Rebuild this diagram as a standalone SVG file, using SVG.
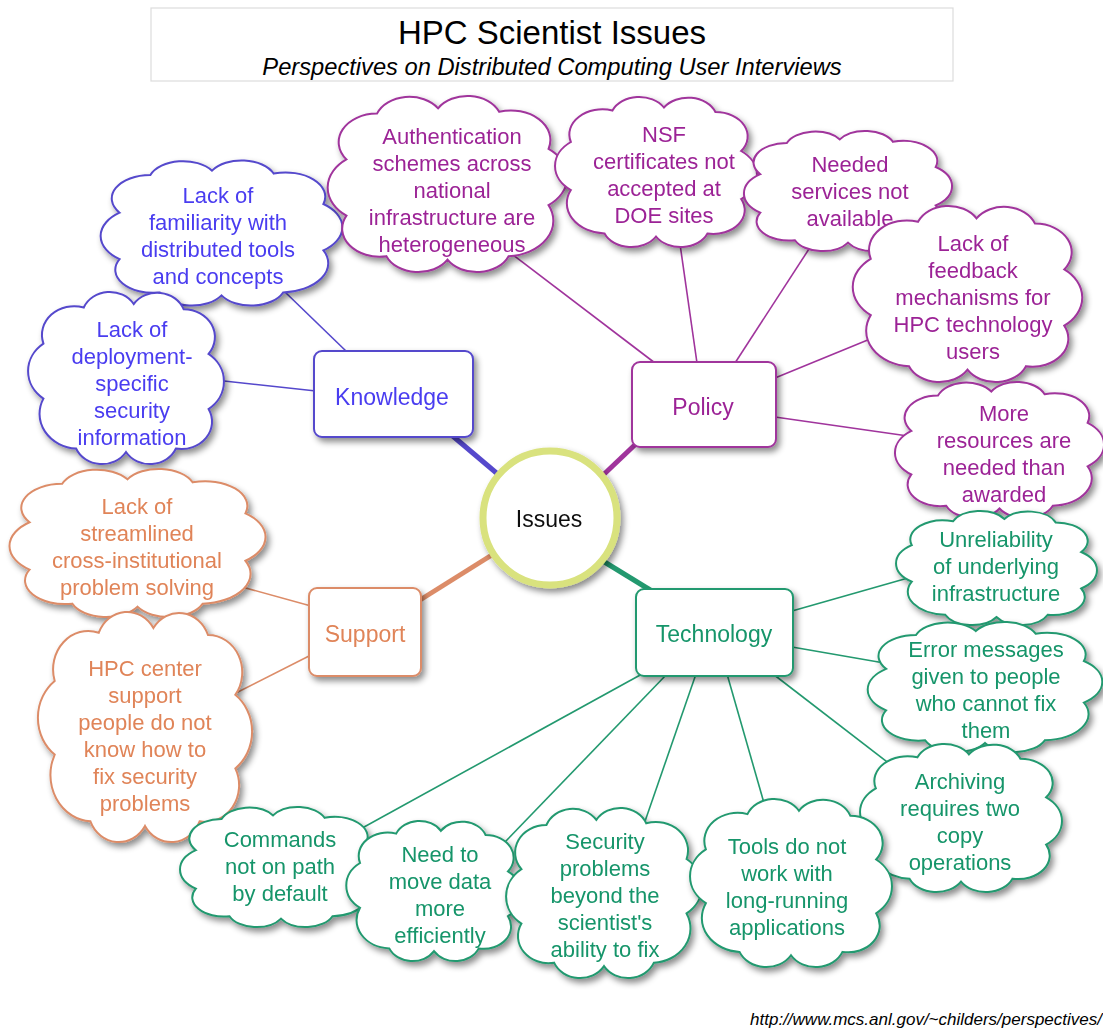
<svg xmlns="http://www.w3.org/2000/svg" xmlns:xlink="http://www.w3.org/1999/xlink" width="1103" height="1030" viewBox="0 0 1103 1030">
  <style>
    text { font-family: "Liberation Sans", Arial, Helvetica, sans-serif; }
    .title { font-size: 33px; fill: #000; text-anchor: middle; }
    .subtitle { font-size: 23.7px; font-style: italic; fill: #000; text-anchor: middle; }
    .url { font-size: 17px; font-style: italic; fill: #000; text-anchor: end; }
    .lbl { font-size: 22px; text-anchor: middle; }
    .box-lbl { font-size: 23px; text-anchor: middle; }
    .cloud-shape { fill: #fff; stroke-width: 2; vector-effect: non-scaling-stroke; }
    .box { fill: #fff; stroke-width: 2; }
    .know { stroke: #5548cc; }
    .know-t { fill: #4a3cf0; }
    .pol { stroke: #a0349c; }
    .pol-t { fill: #9c2496; }
    .sup { stroke: #dc8c68; }
    .sup-t { fill: #e08458; }
    .tech { stroke: #23996f; }
    .tech-t { fill: #16956a; }
    .thin { stroke-width: 1.6; fill: none; }
    .thick { stroke-width: 5; fill: none; }
  </style>
  <defs>
    <filter id="shadow" x="-20%" y="-20%" width="145%" height="150%">
      <feDropShadow dx="3" dy="4" stdDeviation="3" flood-color="#000" flood-opacity="0.45"/>
    </filter>
    <!-- unit cloud, 100 x 100 around the origin: ten lobes on a rounded box -->
    <path id="cloud" class="cloud-shape" d="M-30,-40 A14.7,14.7 0 0 1 -4,-43 A14.6,14.6 0 0 1 22,-41 A16.75,16.75 0 0 1 43,-20 A20,20 0 0 1 43,12 A20.2,20.2 0 0 1 26,41 A14.6,14.6 0 0 1 0,43 A14.6,14.6 0 0 1 -26,41 A15.9,15.9 0 0 1 -43,18 A20,20 0 0 1 -43,-14 A16.2,16.2 0 0 1 -30,-40 Z"/>
  </defs>

  <rect width="1103" height="1030" fill="#fff"/>

  <!-- heading -->
  <g id="heading">
    <rect x="151" y="8" width="802" height="73" fill="#fff" stroke="#dcdcdc" stroke-width="1.2"/>
    <text class="title" x="552" y="44">HPC Scientist Issues</text>
    <text class="subtitle" x="552" y="75">Perspectives on Distributed Computing User Interviews</text>
  </g>

  <!-- connectors -->
  <g id="connectors">
    <!-- hub to categories -->
    <line class="thick know" x1="448" y1="432" x2="500" y2="476"/>
    <line class="thick pol" x1="640" y1="440" x2="600" y2="478"/>
    <line class="thick sup" x1="420" y1="600" x2="495" y2="553"/>
    <line class="thick tech" x1="598" y1="558" x2="660" y2="596"/>
    <!-- Knowledge -->
    <line class="thin know" x1="347" y1="352" x2="285" y2="292"/>
    <line class="thin know" x1="316" y1="391" x2="215" y2="380"/>
    <!-- Policy -->
    <line class="thin pol" x1="655" y1="363" x2="500" y2="245"/>
    <line class="thin pol" x1="697" y1="363" x2="678" y2="230"/>
    <line class="thin pol" x1="735" y1="363" x2="820" y2="232"/>
    <line class="thin pol" x1="775" y1="378" x2="875" y2="337"/>
    <line class="thin pol" x1="775" y1="417" x2="915" y2="437"/>
    <!-- Support -->
    <line class="thin sup" x1="311" y1="606" x2="235" y2="585"/>
    <line class="thin sup" x1="311" y1="655" x2="232" y2="695"/>
    <!-- Technology -->
    <line class="thin tech" x1="792" y1="611" x2="915" y2="576"/>
    <line class="thin tech" x1="792" y1="647" x2="890" y2="664"/>
    <line class="thin tech" x1="773" y1="674" x2="895" y2="768"/>
    <line class="thin tech" x1="727" y1="674" x2="766" y2="810"/>
    <line class="thin tech" x1="696" y1="674" x2="642" y2="830"/>
    <line class="thin tech" x1="667" y1="674" x2="505" y2="842"/>
    <line class="thin tech" x1="642" y1="674" x2="355" y2="832"/>
  </g>

  <!-- hub -->
  <g id="issues" filter="url(#shadow)">
    <circle cx="550" cy="518" r="67" fill="#fff" stroke="#d9e27e" stroke-width="7"/>
    <text class="box-lbl" x="549" y="527" fill="#111">Issues</text>
  </g>

  <!-- categories -->
  <g id="knowledge" filter="url(#shadow)">
    <rect class="box know" x="314" y="351" width="159" height="86" rx="8"/>
    <text class="box-lbl know-t" x="392" y="405">Knowledge</text>
  </g>
  <g id="policy" filter="url(#shadow)">
    <rect class="box pol" x="632" y="362" width="144" height="85" rx="8"/>
    <text class="box-lbl pol-t" x="703" y="415">Policy</text>
  </g>
  <g id="support" filter="url(#shadow)">
    <rect class="box sup" x="309" y="588" width="112" height="88" rx="8"/>
    <text class="box-lbl sup-t" x="365" y="642">Support</text>
  </g>
  <g id="technology" filter="url(#shadow)">
    <rect class="box tech" x="636" y="589" width="157" height="87" rx="8"/>
    <text class="box-lbl tech-t" x="714" y="642">Technology</text>
  </g>

  <!-- Knowledge issues -->
  <g id="k-familiarity" filter="url(#shadow)">
    <use xlink:href="#cloud" class="know" transform="translate(221.5,233) scale(2.37,1.45)"/>
    <text class="lbl know-t" x="218" y="203"><tspan x="218">Lack of</tspan><tspan x="218" dy="27">familiarity with</tspan><tspan x="218" dy="27">distributed tools</tspan><tspan x="218" dy="27">and concepts</tspan></text>
  </g>
  <g id="k-deployment" filter="url(#shadow)">
    <use xlink:href="#cloud" class="know" transform="translate(126,378) scale(-1.92,1.72)"/>
    <text class="lbl know-t" x="132" y="337"><tspan x="132">Lack of</tspan><tspan x="132" dy="27">deployment-</tspan><tspan x="132" dy="27">specific</tspan><tspan x="132" dy="27">security</tspan><tspan x="132" dy="27">information</tspan></text>
  </g>

  <!-- Policy issues -->
  <g id="p-authentication" filter="url(#shadow)">
    <use xlink:href="#cloud" class="pol" transform="translate(447.5,184) scale(2.35,1.76)"/>
    <text class="lbl pol-t" x="452" y="144"><tspan x="452">Authentication</tspan><tspan x="452" dy="27">schemes across</tspan><tspan x="452" dy="27">national</tspan><tspan x="452" dy="27">infrastructure are</tspan><tspan x="452" dy="27">heterogeneous</tspan></text>
  </g>
  <g id="p-nsf" filter="url(#shadow)">
    <use xlink:href="#cloud" class="pol" transform="translate(656,172) scale(-1.98,1.5)"/>
    <text class="lbl pol-t" x="664" y="142"><tspan x="664">NSF</tspan><tspan x="664" dy="27">certificates not</tspan><tspan x="664" dy="27">accepted at</tspan><tspan x="664" dy="27">DOE sites</tspan></text>
  </g>
  <g id="p-services" filter="url(#shadow)">
    <use xlink:href="#cloud" class="pol" transform="translate(848,191) scale(2.04,1.2)"/>
    <text class="lbl pol-t" x="850" y="172"><tspan x="850">Needed</tspan><tspan x="850" dy="27">services not</tspan><tspan x="850" dy="27">available</tspan></text>
  </g>
  <g id="p-feedback" filter="url(#shadow)">
    <use xlink:href="#cloud" class="pol" transform="translate(967.5,294) scale(-2.25,1.76)"/>
    <text class="lbl pol-t" x="973" y="251"><tspan x="973">Lack of</tspan><tspan x="973" dy="27">feedback</tspan><tspan x="973" dy="27">mechanisms for</tspan><tspan x="973" dy="27">HPC technology</tspan><tspan x="973" dy="27">users</tspan></text>
  </g>
  <g id="p-resources" filter="url(#shadow)">
    <use xlink:href="#cloud" class="pol" transform="translate(999.5,450) scale(2.05,1.36)"/>
    <text class="lbl pol-t" x="1004" y="421"><tspan x="1004">More</tspan><tspan x="1004" dy="27">resources are</tspan><tspan x="1004" dy="27">needed than</tspan><tspan x="1004" dy="27">awarded</tspan></text>
  </g>

  <!-- Support issues -->
  <g id="s-streamlined" filter="url(#shadow)">
    <use xlink:href="#cloud" class="sup" transform="translate(137.5,543) scale(2.51,1.48)"/>
    <text class="lbl sup-t" x="137" y="514"><tspan x="137">Lack of</tspan><tspan x="137" dy="27">streamlined</tspan><tspan x="137" dy="27">cross-institutional</tspan><tspan x="137" dy="27">problem solving</tspan></text>
  </g>
  <g id="s-center" filter="url(#shadow)">
    <use xlink:href="#cloud" class="sup" transform="translate(145,727) scale(-2.10,2.3)"/>
    <text class="lbl sup-t" x="145" y="676"><tspan x="145">HPC center</tspan><tspan x="145" dy="27">support</tspan><tspan x="145" dy="27">people do not</tspan><tspan x="145" dy="27">know how to</tspan><tspan x="145" dy="27">fix security</tspan><tspan x="145" dy="27">problems</tspan></text>
  </g>

  <!-- Technology issues -->
  <g id="t-unreliability" filter="url(#shadow)">
    <use xlink:href="#cloud" class="tech" transform="translate(996.5,568) scale(-1.97,1.14)"/>
    <text class="lbl tech-t" x="996" y="547"><tspan x="996">Unreliability</tspan><tspan x="996" dy="27">of underlying</tspan><tspan x="996" dy="27">infrastructure</tspan></text>
  </g>
  <g id="t-errors" filter="url(#shadow)">
    <use xlink:href="#cloud" class="tech" transform="translate(985,687) scale(2.30,1.3)"/>
    <text class="lbl tech-t" x="986" y="657"><tspan x="986">Error messages</tspan><tspan x="986" dy="27">given to people</tspan><tspan x="986" dy="27">who cannot fix</tspan><tspan x="986" dy="27">them</tspan></text>
  </g>
  <g id="t-archiving" filter="url(#shadow)">
    <use xlink:href="#cloud" class="tech" transform="translate(961,818) scale(-1.98,1.48)"/>
    <text class="lbl tech-t" x="960" y="789"><tspan x="960">Archiving</tspan><tspan x="960" dy="27">requires two</tspan><tspan x="960" dy="27">copy</tspan><tspan x="960" dy="27">operations</tspan></text>
  </g>
  <g id="t-commands" filter="url(#shadow)">
    <use xlink:href="#cloud" class="tech" transform="translate(281,867) scale(1.98,1.2)"/>
    <text class="lbl tech-t" x="280" y="847"><tspan x="280">Commands</tspan><tspan x="280" dy="27">not on path</tspan><tspan x="280" dy="27">by default</tspan></text>
  </g>
  <g id="t-movedata" filter="url(#shadow)">
    <use xlink:href="#cloud" class="tech" transform="translate(434,891) scale(-1.72,1.4)"/>
    <text class="lbl tech-t" x="440" y="862"><tspan x="440">Need to</tspan><tspan x="440" dy="27">move data</tspan><tspan x="440" dy="27">more</tspan><tspan x="440" dy="27">efficiently</tspan></text>
  </g>
  <g id="t-security" filter="url(#shadow)">
    <use xlink:href="#cloud" class="tech" transform="translate(604,893) scale(1.92,1.7)"/>
    <text class="lbl tech-t" x="605" y="849"><tspan x="605">Security</tspan><tspan x="605" dy="27">problems</tspan><tspan x="605" dy="27">beyond the</tspan><tspan x="605" dy="27">scientist's</tspan><tspan x="605" dy="27">ability to fix</tspan></text>
  </g>
  <g id="t-tools" filter="url(#shadow)">
    <use xlink:href="#cloud" class="tech" transform="translate(791,883) scale(-1.98,1.68)"/>
    <text class="lbl tech-t" x="787" y="854"><tspan x="787">Tools do not</tspan><tspan x="787" dy="27">work with</tspan><tspan x="787" dy="27">long-running</tspan><tspan x="787" dy="27">applications</tspan></text>
  </g>

  <text class="url" x="1102" y="1025">http://www.mcs.anl.gov/~childers/perspectives/</text>
</svg>
